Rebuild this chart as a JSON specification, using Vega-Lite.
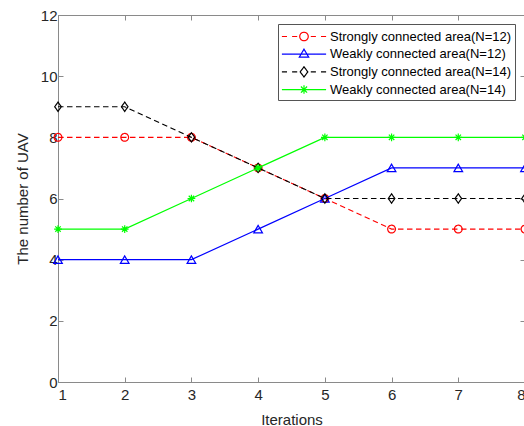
{
  "$schema": "https://vega.github.io/schema/vega-lite/v6.json",
  "width": 467,
  "height": 367,
  "autosize": "none",
  "padding": {"left": 58, "top": 15, "right": 0, "bottom": 44},
  "background": "white",
  "config": {
    "view": {"stroke": "#8a8a8a", "strokeWidth": 1},
    "font": "Liberation Sans",
    "axis": {"grid": false, "domainColor": "#8a8a8a", "tickColor": "#8a8a8a", "tickSize": -5, "labelFont": "Liberation Sans", "labelFontSize": 15, "labelColor": "#262626", "titleFont": "Liberation Sans", "titleFontSize": 15, "titleFontWeight": "normal", "titleColor": "#262626"}
  },
  "data": {
    "values": [
      {"series": "Strongly connected area(N=12)", "iter": 1, "uav": 8},
      {"series": "Strongly connected area(N=12)", "iter": 2, "uav": 8},
      {"series": "Strongly connected area(N=12)", "iter": 3, "uav": 8},
      {"series": "Strongly connected area(N=12)", "iter": 4, "uav": 7},
      {"series": "Strongly connected area(N=12)", "iter": 5, "uav": 6},
      {"series": "Strongly connected area(N=12)", "iter": 6, "uav": 5},
      {"series": "Strongly connected area(N=12)", "iter": 7, "uav": 5},
      {"series": "Strongly connected area(N=12)", "iter": 8, "uav": 5},
      {"series": "Weakly connected area(N=12)", "iter": 1, "uav": 4},
      {"series": "Weakly connected area(N=12)", "iter": 2, "uav": 4},
      {"series": "Weakly connected area(N=12)", "iter": 3, "uav": 4},
      {"series": "Weakly connected area(N=12)", "iter": 4, "uav": 5},
      {"series": "Weakly connected area(N=12)", "iter": 5, "uav": 6},
      {"series": "Weakly connected area(N=12)", "iter": 6, "uav": 7},
      {"series": "Weakly connected area(N=12)", "iter": 7, "uav": 7},
      {"series": "Weakly connected area(N=12)", "iter": 8, "uav": 7},
      {"series": "Strongly connected area(N=14)", "iter": 1, "uav": 9},
      {"series": "Strongly connected area(N=14)", "iter": 2, "uav": 9},
      {"series": "Strongly connected area(N=14)", "iter": 3, "uav": 8},
      {"series": "Strongly connected area(N=14)", "iter": 4, "uav": 7},
      {"series": "Strongly connected area(N=14)", "iter": 5, "uav": 6},
      {"series": "Strongly connected area(N=14)", "iter": 6, "uav": 6},
      {"series": "Strongly connected area(N=14)", "iter": 7, "uav": 6},
      {"series": "Strongly connected area(N=14)", "iter": 8, "uav": 6},
      {"series": "Weakly connected area(N=14)", "iter": 1, "uav": 5},
      {"series": "Weakly connected area(N=14)", "iter": 2, "uav": 5},
      {"series": "Weakly connected area(N=14)", "iter": 3, "uav": 6},
      {"series": "Weakly connected area(N=14)", "iter": 4, "uav": 7},
      {"series": "Weakly connected area(N=14)", "iter": 5, "uav": 8},
      {"series": "Weakly connected area(N=14)", "iter": 6, "uav": 8},
      {"series": "Weakly connected area(N=14)", "iter": 7, "uav": 8},
      {"series": "Weakly connected area(N=14)", "iter": 8, "uav": 8}
    ]
  },
  "resolve": {"axis": {"x": "independent", "y": "independent"}},
  "layer": [
    {
      "transform": [{"filter": "datum.series === 'Strongly connected area(N=12)'"}],
      "mark": {"type": "line", "strokeWidth": 1.2, "strokeDash": [5.5, 3.5], "clip": false,
        "point": {"shape": "circle", "filled": false, "size": 60, "strokeWidth": 1.2, "strokeDash": [1, 0]}},
      "encoding": {
        "x": {"field": "iter", "type": "quantitative", "scale": {"domain": [1, 8], "nice": false, "zero": false},
          "axis": {"values": [1, 2, 3, 4, 5, 6, 7, 8], "format": "d", "labelPadding": 10, "title": "Iterations", "titlePadding": 10}},
        "y": {"field": "uav", "type": "quantitative", "scale": {"domain": [0, 12], "nice": false},
          "axis": {"values": [0, 2, 4, 6, 8, 10, 12], "format": "d", "labelPadding": 6, "title": "The number of UAV", "titlePadding": 10}},
        "color": {"field": "series", "type": "nominal",
          "scale": {"domain": ["Strongly connected area(N=12)", "Weakly connected area(N=12)", "Strongly connected area(N=14)", "Weakly connected area(N=14)"], "range": ["#ff0000", "#0000ff", "#000000", "#00ff00"]},
          "legend": {
            "orient": "none", "legendX": 220, "legendY": 9, "title": null,
            "symbolSize": 289, "labelFontSize": 13, "labelColor": "#000000", "labelFont": "Liberation Sans", "labelLimit": 400,
            "strokeColor": "#555555", "fillColor": "white", "padding": 3, "rowPadding": 0.7, "labelOffset": 30,
            "symbolStrokeWidth": 1.2,
            "encode": {"symbols": {"update": {
              "shape": {"signal": "datum.value === 'Strongly connected area(N=12)' ? 'M-2.6,0L-2,0M-1.4,0L-0.8,0M0.5,0A0.5,0.5,0,1,1,-0.5,0A0.5,0.5,0,1,1,0.5,0M0.8,0L1.4,0M2,0L2.6,0' : datum.value === 'Weakly connected area(N=12)' ? 'M-2.6,0L2.6,0M0,-0.6L0.55,0.35L-0.55,0.35Z' : datum.value === 'Strongly connected area(N=14)' ? 'M-2.6,0L-2,0M-1.4,0L-0.8,0M0,-0.6L0.45,0L0,0.6L-0.45,0ZM0.8,0L1.4,0M2,0L2.6,0' : 'M-2.6,0L2.6,0M-0.5,0L0.5,0M0,-0.5L0,0.5M-0.36,-0.36L0.36,0.36M-0.36,0.36L0.36,-0.36'"},
              "fill": {"value": "transparent"},
              "strokeDash": {"value": [1, 0]},
              "strokeWidth": {"value": 1.2},
              "x": {"value": 23}
            }}}
          }}
      }
    },
    {
      "transform": [{"filter": "datum.series === 'Weakly connected area(N=12)'"}],
      "mark": {"type": "line", "strokeWidth": 1.2, "clip": false,
        "point": {"shape": "triangle-up", "filled": false, "size": 75, "strokeWidth": 1.2}},
      "encoding": {
        "x": {"field": "iter", "type": "quantitative", "axis": null},
        "y": {"field": "uav", "type": "quantitative", "axis": null},
        "color": {"field": "series", "type": "nominal"}
      }
    },
    {
      "transform": [{"filter": "datum.series === 'Strongly connected area(N=14)'"}],
      "mark": {"type": "line", "strokeWidth": 1.2, "strokeDash": [5.5, 3.5], "clip": false,
        "point": {"shape": "M0,-1.2L0.85,0L0,1.2L-0.85,0Z", "filled": false, "size": 60, "strokeWidth": 1.2, "strokeDash": [1, 0]}},
      "encoding": {
        "x": {"field": "iter", "type": "quantitative", "axis": null},
        "y": {"field": "uav", "type": "quantitative", "axis": null},
        "color": {"field": "series", "type": "nominal"}
      }
    },
    {
      "transform": [{"filter": "datum.series === 'Weakly connected area(N=14)'"}],
      "mark": {"type": "line", "strokeWidth": 1.2, "clip": false,
        "point": {"shape": "M-1,0L1,0M0,-1L0,1M-0.7,-0.7L0.7,0.7M-0.7,0.7L0.7,-0.7", "filled": false, "size": 60, "strokeWidth": 1.2}},
      "encoding": {
        "x": {"field": "iter", "type": "quantitative", "axis": null},
        "y": {"field": "uav", "type": "quantitative", "axis": null},
        "color": {"field": "series", "type": "nominal"}
      }
    },
    {
      "mark": {"type": "point", "opacity": 0},
      "encoding": {
        "x": {"field": "iter", "type": "quantitative", "axis": {"orient": "top", "values": [1, 2, 3, 4, 5, 6, 7, 8], "labels": false, "domain": false, "title": null}},
        "y": {"field": "uav", "type": "quantitative", "axis": {"orient": "right", "values": [0, 2, 4, 6, 8, 10, 12], "labels": false, "domain": false, "title": null}}
      }
    }
  ]
}
